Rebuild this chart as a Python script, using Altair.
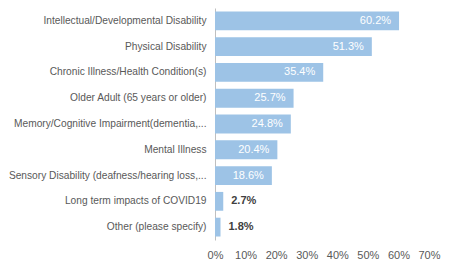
import altair as alt
import pandas as pd

categories = [
    "Intellectual/Developmental Disability",
    "Physical Disability",
    "Chronic Illness/Health Condition(s)",
    "Older Adult (65 years or older)",
    "Memory/Cognitive Impairment(dementia,...",
    "Mental Illness",
    "Sensory Disability (deafness/hearing loss,...",
    "Long term impacts of COVID19",
    "Other (please specify)",
]
values = [60.2, 51.3, 35.4, 25.7, 24.8, 20.4, 18.6, 2.7, 1.8]
x_ticks = [0, 10, 20, 30, 40, 50, 60, 70]

df = pd.DataFrame({"cat": categories, "val": values})
df["label"] = df["val"].map(lambda v: f"{v:.1f}%")
df["inside"] = df["val"] >= 5

FONT = "Liberation Sans"

x_enc = alt.X(
    "val:Q",
    scale=alt.Scale(domain=[0, 70], nice=False),
    axis=alt.Axis(
        values=x_ticks,
        labelExpr="datum.value + '%'",
        domain=False,
        ticks=False,
        grid=False,
        title=None,
        labelPadding=9,
        labelColor="#595959",
        labelFontSize=11,
        labelFont=FONT,
        labelOverlap=False,
        labelFlush=False,
        labelBound=False,
    ),
)
y_enc = alt.Y(
    "cat:N",
    sort=categories,
    scale=alt.Scale(paddingInner=0.27, paddingOuter=0.135),
    axis=alt.Axis(
        title=None,
        ticks=False,
        domainColor="#bfbfbf",
        labelPadding=9,
        labelColor="#595959",
        labelFontSize=10.2,
        labelFont=FONT,
        labelLimit=260,
    ),
)

base = alt.Chart(df).encode(x=x_enc, y=y_enc)

bars = base.mark_bar(color="#9DC3E6")

inside = (
    base.transform_filter("datum.inside")
    .mark_text(align="right", dx=-8, color="#ffffff", fontSize=11, font=FONT)
    .encode(text="label:N")
)
outside = (
    base.transform_filter("!datum.inside")
    .mark_text(align="left", dx=8, color="#404040", fontSize=11, fontWeight="bold", font=FONT)
    .encode(text="label:N")
)

chart = (
    alt.layer(bars, inside, outside)
    .properties(
        width=214,
        height=232,
        autosize=alt.AutoSizeParams(type="none"),
        padding={"left": 207, "top": 0, "right": 14, "bottom": 22},
        background="#ffffff",
    )
    .configure_view(stroke=None)
)

chart.save("out.html", embed_options={"renderer": "svg", "actions": False})
